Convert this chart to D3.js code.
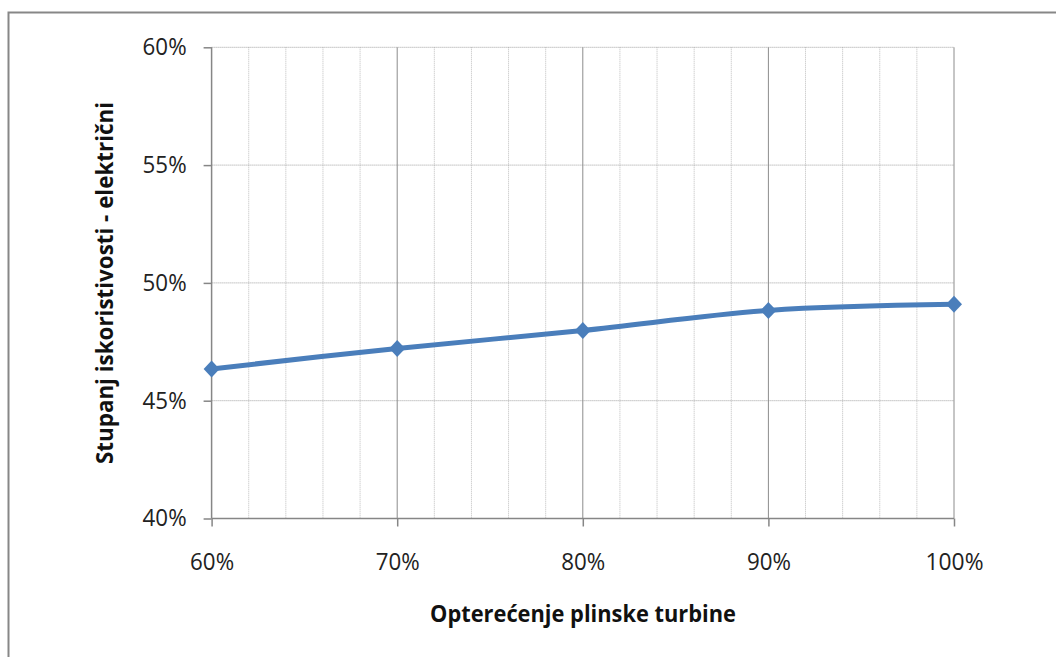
<!DOCTYPE html>
<html>
<head>
<meta charset="utf-8">
<script src="https://cdn.jsdelivr.net/npm/d3@7"></script>
<style>
  html, body { margin: 0; padding: 0; background: #fff; }
  svg { display: block; }
  text { font-family: "Open Sans", "Liberation Sans", sans-serif; }
</style>
</head>
<body>
<svg id="chart" width="1056" height="657"></svg>
<script>
// Data
const loads = [0.6, 0.7, 0.8, 0.9, 1.0];
const efficiency = [0.4635, 0.4722, 0.4798, 0.4883, 0.4909];
const xTicks = [0.6, 0.7, 0.8, 0.9, 1.0];
const yTicks = [0.40, 0.45, 0.50, 0.55, 0.60];
const xMinorTicks = [0.62, 0.64, 0.66, 0.68, 0.72, 0.74, 0.76, 0.78, 0.82, 0.84, 0.86, 0.88, 0.92, 0.94, 0.96, 0.98];
const xTitle = "Opterećenje plinske turbine";
const yTitle = "Stupanj iskoristivosti - električni";

(function () {
const svg = d3.select("#chart");
const pLeft = 211.6, pRight = 954, pTop = 47.3, pBottom = 518.5;
const tickFont = 23;

// outer border
svg.append("rect").attr("x", 8.5).attr("y", 12.5).attr("width", 1060).attr("height", 660)
  .attr("fill", "#fff").attr("stroke", "#878787").attr("stroke-width", 2);

const x = d3.scaleLinear().domain([0.6, 1.0]).range([pLeft, pRight]);
const y = d3.scaleLinear().domain([0.4, 0.6]).range([pBottom, pTop]);
const pct = d3.format(".0%");

// minor vertical gridlines
svg.append("g").selectAll("line").data(xMinorTicks).join("line")
  .attr("x1", d => x(d)).attr("x2", d => x(d)).attr("y1", pTop).attr("y2", pBottom)
  .attr("stroke", "#bdbdbd").attr("stroke-width", 1).attr("stroke-dasharray", "1,1");

// horizontal gridlines
svg.append("g").selectAll("line").data(yTicks.slice(1)).join("line")
  .attr("x1", pLeft).attr("x2", pRight).attr("y1", d => y(d)).attr("y2", d => y(d))
  .attr("stroke", "#9f9f9f").attr("stroke-width", 1).attr("stroke-dasharray", "1,1");

// major vertical gridlines
svg.append("g").selectAll("line").data(xTicks.slice(1)).join("line")
  .attr("x1", d => x(d)).attr("x2", d => x(d)).attr("y1", pTop).attr("y2", pBottom)
  .attr("stroke", "#8c8c8c").attr("stroke-width", 1);

// Axes
const xAxis = d3.axisBottom(x).tickValues(xTicks).tickFormat(pct).tickSize(8).tickPadding(27);
const yAxis = d3.axisLeft(y).tickValues(yTicks).tickFormat(pct).tickSize(8).tickPadding(17);

const gx = svg.append("g").attr("transform", `translate(0,${pBottom})`).call(xAxis);
const gy = svg.append("g").attr("transform", `translate(${pLeft},0)`).call(yAxis);
[gx, gy].forEach(g => {
  g.select(".domain").attr("stroke", "#868686").attr("stroke-width", 1.5);
  g.selectAll(".tick line").attr("stroke", "#868686").attr("stroke-width", 1.5);
  g.selectAll(".tick text").attr("fill", "#222").style("font-size", tickFont + "px")
    .style("font-family", "'Open Sans', sans-serif");
});
gx.selectAll(".tick text").attr("textLength", 44).attr("lengthAdjust", "spacingAndGlyphs");
gx.selectAll(".tick text").filter(d => d === 1.0).attr("textLength", 58);
gy.selectAll(".tick text").attr("textLength", 44).attr("lengthAdjust", "spacingAndGlyphs");
gy.select(".domain").attr("d", `M0,${pTop}V${pBottom}`);
gx.select(".domain").attr("d", `M${pLeft},0H${pRight}`);

// Line
const pts = loads.map((d, i) => [x(d), y(efficiency[i])]);
svg.append("path").datum(pts)
  .attr("d", d3.line().curve(d3.curveCatmullRom.alpha(0)))
  .attr("fill", "none").attr("stroke", "#4a7ebb").attr("stroke-width", 5)
  .attr("stroke-linejoin", "round");

// Diamond markers
svg.append("g").selectAll("path").data(pts).join("path")
  .attr("transform", d => `translate(${d[0]},${d[1]})`)
  .attr("d", "M0,-8.5L8,0L0,8.5L-8,0Z")
  .attr("fill", "#4a7ebb");

// Titles
svg.append("text").attr("x", 583).attr("y", 622).attr("text-anchor", "middle")
  .style("font-size", "24px").style("font-weight", "bold").attr("fill", "#111")
  .attr("textLength", 306).attr("lengthAdjust", "spacingAndGlyphs")
  .text(xTitle);

svg.append("text").attr("transform", "translate(113,283) rotate(-90)")
  .attr("text-anchor", "middle")
  .style("font-size", "24px").style("font-weight", "bold").attr("fill", "#111")
  .attr("textLength", 362).attr("lengthAdjust", "spacingAndGlyphs")
  .text(yTitle);
})();
</script>
</body>
</html>
